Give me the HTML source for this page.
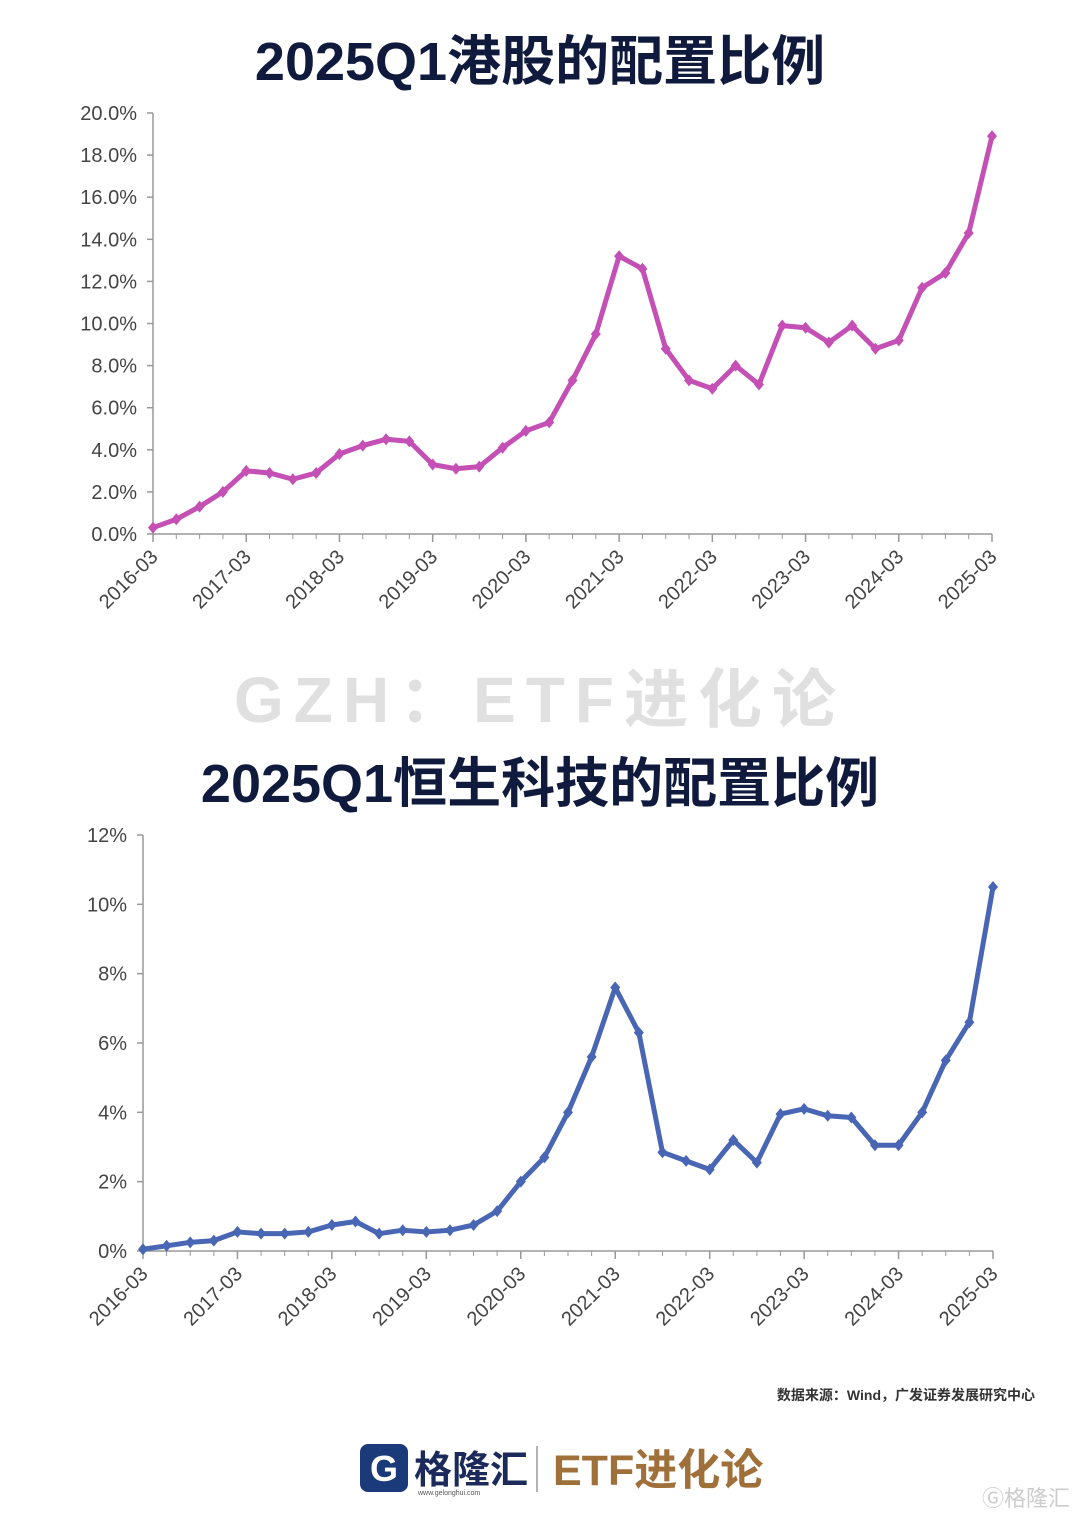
<!DOCTYPE html>
<html><head><meta charset="utf-8">
<style>
body{margin:0;background:#fff;width:1080px;height:1516px;overflow:hidden;font-family:"Liberation Sans","Noto Sans CJK SC",sans-serif;}
svg text{font-family:"Liberation Sans","Noto Sans CJK SC",sans-serif;}
</style></head>
<body>
<svg id="svg" width="1080" height="1516">
<text x="540" y="80" text-anchor="middle" font-size="54" font-weight="bold" fill="#0f1a3d">2025Q1港股的配置比例</text>
<text x="540" y="722" text-anchor="middle" font-size="64" font-weight="bold" fill="#e0e0e0" letter-spacing="10">GZH：ETF进化论</text>
<text x="540" y="802" text-anchor="middle" font-size="54" font-weight="bold" fill="#0f1a3d">2025Q1恒生科技的配置比例</text>
<g id="top"></g>
<g id="bot"></g>
<text x="1035" y="1400" text-anchor="end" font-size="14" font-weight="bold" fill="#333">数据来源：Wind，广发证券发展研究中心</text>
<g>
<rect x="360" y="1444" width="48" height="48" rx="8" fill="#1b3a7a"/>
<text x="384" y="1481" text-anchor="middle" font-size="36" font-weight="bold" fill="#fff">G</text>
<text x="414" y="1483" font-size="38" font-weight="bold" fill="#1b2a5a">格隆汇</text>
<text x="418" y="1495" font-size="7" fill="#555">www.gelonghui.com</text>
<line x1="537" y1="1446" x2="537" y2="1492" stroke="#999" stroke-width="1.5"/>
<text x="553" y="1485" font-size="43" font-weight="bold" fill="#a0703a">ETF进化论</text>
</g>
<text x="1070" y="1506" text-anchor="end" font-size="22" fill="#ccc">Ⓖ格隆汇</text>
</svg>
<script>
const categories=[];
for(let y=2016;y<=2025;y++){for(const m of ['03','06','09','12']){if(y===2025&&m!=='03')break;categories.push(y+'-'+m);}}
const hkValues=[0.3,0.7,1.3,2.0,3.0,2.9,2.6,2.9,3.8,4.2,4.5,4.4,3.3,3.1,3.2,4.1,4.9,5.3,7.3,9.5,13.2,12.6,8.8,7.3,6.9,8.0,7.1,9.9,9.8,9.1,9.9,8.8,9.2,11.7,12.4,14.3,18.9];
const hstechValues=[0.05,0.15,0.25,0.3,0.55,0.5,0.5,0.55,0.75,0.85,0.5,0.6,0.55,0.6,0.75,1.15,2.0,2.7,4.0,5.6,7.6,6.3,2.85,2.6,2.35,3.2,2.55,3.95,4.1,3.9,3.85,3.05,3.05,4.0,5.5,6.6,10.5];
const hkTicks=[0,2,4,6,8,10,12,14,16,18,20];
const hstechTicks=[0,2,4,6,8,10,12];
const NS='http://www.w3.org/2000/svg';
function mk(tag,attrs,parent){const e=document.createElementNS(NS,tag);for(const k in attrs)e.setAttribute(k,attrs[k]);parent.appendChild(e);return e;}
function draw(g,vals,ticks,cfg){
  const n=categories.length;
  const xs=i=>cfg.x0+(cfg.x1-cfg.x0)*i/(n-1);
  const ys=v=>cfg.y0-(cfg.y0-cfg.y1)*(v-ticks[0])/(ticks[ticks.length-1]-ticks[0]);
  const ax=mk('line',{x1:cfg.x0,y1:ys(ticks[ticks.length-1]),x2:cfg.x0,y2:cfg.y0,stroke:'#999','stroke-width':1.5},g);
  
  
  const bx=mk('line',{x1:cfg.x0,y1:cfg.y0,x2:cfg.x1,y2:cfg.y0,stroke:'#999','stroke-width':1.5},g);
  
  
  ticks.forEach(t=>{
    mk('line',{x1:cfg.x0-6,y1:ys(t),x2:cfg.x0,y2:ys(t),stroke:'#999','stroke-width':1.5},g);
    const tx=mk('text',{x:cfg.x0-16,y:ys(t)+7,'text-anchor':'end','font-size':20,fill:'#444'},g);
    tx.textContent=cfg.fmt(t);
    
    
  });
  categories.forEach((c,i)=>{
    mk('line',{x1:xs(i),y1:cfg.y0,x2:xs(i),y2:cfg.y0+5,stroke:'#999','stroke-width':1},g);
    if(c.endsWith('-03')){
      mk('line',{x1:xs(i),y1:cfg.y0,x2:xs(i),y2:cfg.y0+8,stroke:'#999','stroke-width':1.5},g);
      const tx=mk('text',{x:xs(i)+6,y:cfg.y0+24,'text-anchor':'end','font-size':20,fill:'#444',transform:`rotate(-45 ${xs(i)+6} ${cfg.y0+24})`},g);
      tx.textContent=c;
      
      
    }
  });
  const p=mk('polyline',{points:vals.map((v,i)=>xs(i)+','+ys(v)).join(' '),fill:'none',stroke:cfg.color,'stroke-width':5,'stroke-linejoin':'round'},g);
  
  
  vals.forEach((v,i)=>{
    const m=mk('path',{d:`M${xs(i)} ${ys(v)-6}L${xs(i)+5} ${ys(v)}L${xs(i)} ${ys(v)+6}L${xs(i)-5} ${ys(v)}Z`,fill:cfg.color},g);
    
    
  });
}
draw(document.getElementById('top'),hkValues,hkTicks,{x0:153,x1:992,y0:534,y1:113,color:'#c44fb5',fmt:t=>t.toFixed(1)+'%'});
draw(document.getElementById('bot'),hstechValues,hstechTicks,{x0:143,x1:993,y0:1251,y1:835,color:'#4866b4',fmt:t=>t+'%'});
</script>
</body></html>
